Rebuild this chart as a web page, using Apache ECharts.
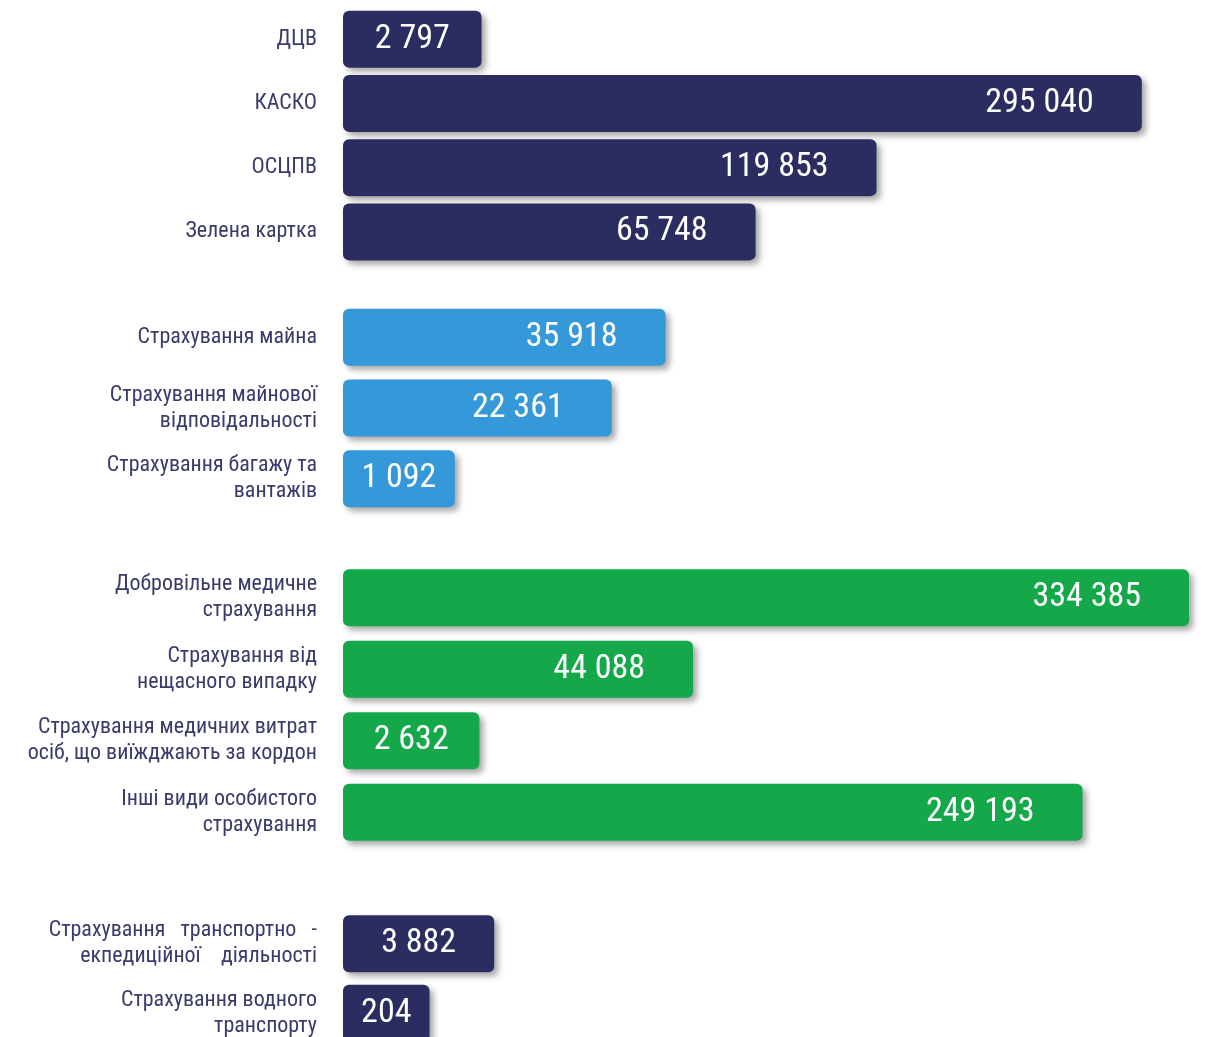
<!DOCTYPE html>
<html>
<head>
<meta charset="utf-8">
<title>Страхові платежі</title>
<script src="https://cdn.jsdelivr.net/npm/echarts@6/dist/echarts.min.js"></script>
<style>
  html, body { margin: 0; padding: 0; background: #fff; }
  #chart { width: 1221px; height: 1037px; }
</style>
</head>
<body>
<div id="chart"></div>
<script>
// дані: чотири групи видів страхування
var motorNames = ['ДЦВ', 'КАСКО', 'ОСЦПВ', 'Зелена картка'];
var motorValues = [2797, 295040, 119853, 65748];

var propertyNames = ['Страхування майна', 'Страхування майнової\nвідповідальності', 'Страхування багажу та\nвантажів'];
var propertyValues = [35918, 22361, 1092];

var personalNames = ['Добровільне медичне\nстрахування', 'Страхування від\nнещасного випадку', 'Страхування медичних витрат\nосіб, що виїжджають за кордон', 'Інші види особистого\nстрахування'];
var personalValues = [334385, 44088, 2632, 249193];

var transportNames = ['Страхування   транспортно   -\nекпедиційної    діяльності', 'Страхування водного\nтранспорту'];
var transportValues = [3882, 204];

// кольори груп
var NAVY = '#2b2c60';
var BLUE = '#3598d8';
var GREEN = '#15a84b';
var FONT = "'Roboto Condensed', 'DejaVu Sans Condensed', sans-serif";

// шкала довжини смуг: корінь з величини + сталий відступ (як в інфографіці)
var SCALE_OFFSET = 50;
var SCALE_MAX = 652;
function barLength(v) {
  return Math.sqrt(v) + SCALE_OFFSET;
}

// 2797 -> "2 797"
function formatValue(v) {
  return String(v).replace(/\B(?=(\d{3})+(?!\d))/g, ' ');
}

// розміщення груп по вертикалі
var groups = [
  { names: motorNames, values: motorValues, color: NAVY, top: 7, height: 257 },
  { names: propertyNames, values: propertyValues, color: BLUE, top: 302, height: 212 },
  { names: personalNames, values: personalValues, color: GREEN, top: 562, height: 286 },
  { names: transportNames, values: transportValues, color: NAVY, top: 909, height: 139 }
];

var option = { animation: false, grid: [], xAxis: [], yAxis: [], series: [] };

groups.forEach(function (g, i) {
  option.grid.push({
    left: 343, right: 0, top: g.top, height: g.height,
    containLabel: false,
    outerBoundsMode: 'none'
  });
  option.xAxis.push({ gridIndex: i, type: 'value', min: 0, max: SCALE_MAX, show: false });
  option.yAxis.push({
    gridIndex: i,
    type: 'category',
    inverse: true,
    data: g.names,
    axisLine: { show: false },
    axisTick: { show: false },
    splitLine: { show: false },
    axisLabel: {
      margin: 26,
      fontFamily: FONT,
      fontSize: 22,
      lineHeight: 26,
      color: '#3b3b6b',
      align: 'right'
    }
  });
  option.series.push({
    type: 'bar',
    xAxisIndex: i,
    yAxisIndex: i,
    barWidth: 57,
    data: g.values.map(function (v) {
      var len = barLength(v);
      var short = len < 150; // короткі смуги - підпис по центру
      return {
        value: len,
        raw: v,
        label: short ? { position: 'inside' } : { position: 'insideRight', distance: 48 }
      };
    }),
    itemStyle: {
      color: g.color,
      borderRadius: 6,
      shadowBlur: 6,
      shadowOffsetX: 4,
      shadowOffsetY: 4,
      shadowColor: 'rgba(0, 0, 0, 0.35)'
    },
    label: {
      show: true,
      fontFamily: FONT,
      fontSize: 34,
      color: '#ffffff',
      formatter: function (p) { return formatValue(p.data.raw); }
    }
  });
});

var chart = echarts.init(document.getElementById('chart'));
chart.setOption(option);
</script>
</body>
</html>
